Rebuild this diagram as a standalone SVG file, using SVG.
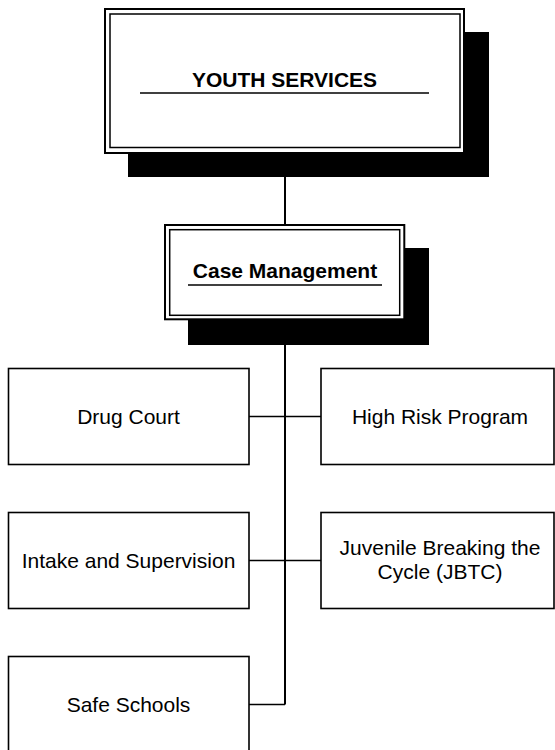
<svg xmlns="http://www.w3.org/2000/svg" width="555" height="750" viewBox="0 0 555 750">
<style>
  .shadow { fill: #000; stroke: none; }
  .outer { fill: #fff; stroke: #000; stroke-width: 2; }
  .inner { fill: none; stroke: #000; stroke-width: 1.5; }
  .box { fill: #fff; stroke: #000; stroke-width: 1.6; }
  .uline { stroke: #000; stroke-width: 1.6; fill: none; }
  .conn { stroke: #000; fill: none; }
  .title { font-family: "Liberation Sans", Arial, sans-serif; font-size: 21px; font-weight: bold; fill: #000; text-anchor: middle; }
  .label { font-family: "Liberation Sans", Arial, sans-serif; font-size: 21px; fill: #000; text-anchor: middle; }
</style>
<rect width="555" height="750" fill="#fff"/>
<g id="connectors">
  <path class="conn" stroke-width="2" d="M285 153 V704.5"/>
  <path class="conn" stroke-width="1.6" d="M249 416.5 H321"/>
  <path class="conn" stroke-width="1.6" d="M249 560.5 H321"/>
  <path class="conn" stroke-width="1.6" d="M249 704.5 H285"/>
</g>
<g id="youth-services">
  <rect class="shadow" x="128" y="32" width="361" height="145"/>
  <rect class="outer" x="105" y="9" width="359" height="144"/>
  <rect class="inner" x="110" y="14" width="350" height="133.5"/>
  <text class="title" x="284.5" y="87">YOUTH SERVICES</text>
  <line class="uline" x1="140" y1="93" x2="429" y2="93"/>
</g>
<g id="case-management">
  <rect class="shadow" x="188" y="248" width="241" height="97"/>
  <rect class="outer" x="165" y="225" width="239.3" height="94.3"/>
  <rect class="inner" x="169.7" y="229.7" width="230" height="85.6"/>
  <text class="title" x="285" y="278">Case Management</text>
  <line class="uline" x1="188" y1="285" x2="382" y2="285"/>
</g>
<g id="drug-court">
  <rect class="box" x="8.5" y="368.5" width="240.5" height="96"/>
  <text class="label" x="128.5" y="423.5">Drug Court</text>
</g>
<g id="high-risk-program">
  <rect class="box" x="321" y="368.5" width="233" height="96"/>
  <text class="label" x="440" y="423.5">High Risk Program</text>
</g>
<g id="intake-supervision">
  <rect class="box" x="8.5" y="512.5" width="240.5" height="96"/>
  <text class="label" x="128.5" y="567.5">Intake and Supervision</text>
</g>
<g id="jbtc">
  <rect class="box" x="321" y="512.5" width="233" height="96"/>
  <text class="label" x="440" y="555">Juvenile Breaking the</text>
  <text class="label" x="440" y="579">Cycle (JBTC)</text>
</g>
<g id="safe-schools">
  <rect class="box" x="8.5" y="656.5" width="240.5" height="96"/>
  <text class="label" x="128.5" y="711.5">Safe Schools</text>
</g>
</svg>
